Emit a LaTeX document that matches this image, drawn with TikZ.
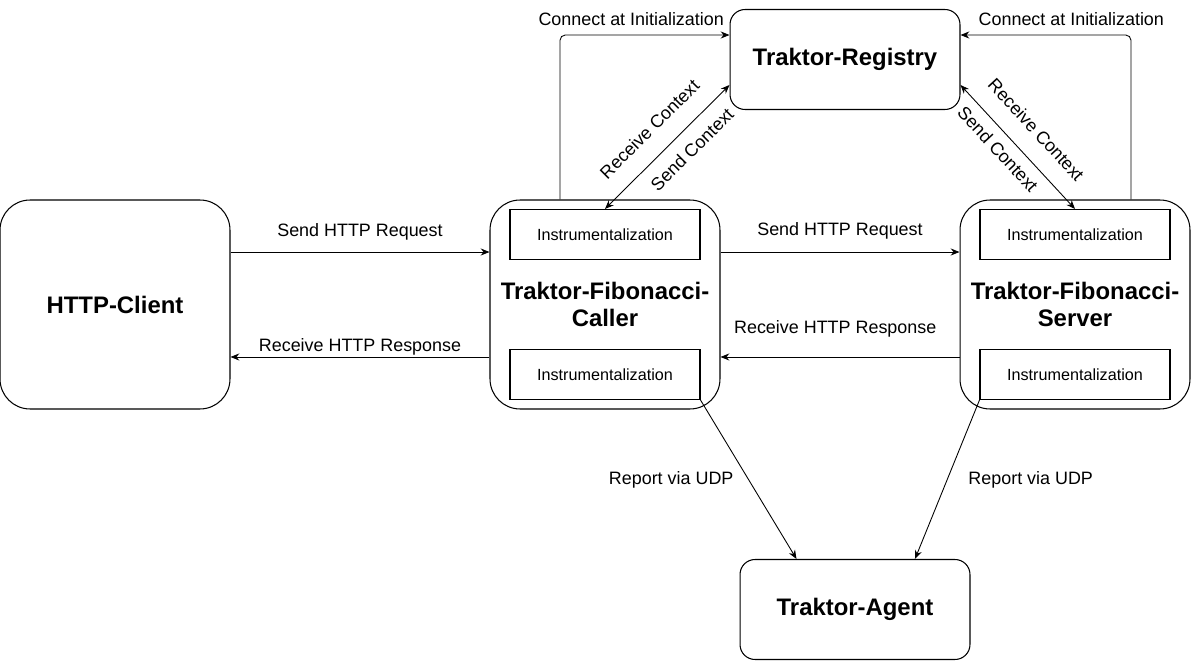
\documentclass[tikz,border=0pt]{standalone}
\usepackage{fontspec}
\setmainfont{Liberation Sans}
\usetikzlibrary{arrows.meta}
\newcommand{\titlefont}{\fontsize{13.6}{15.5}\selectfont\bfseries}
\newcommand{\lblfont}{\fontsize{10.2}{12}\selectfont}
\newcommand{\instfont}{\fontsize{9.2}{11}\selectfont}
\tikzset{
	box/.style = {draw, line width=0.6pt, rounded corners=0.6cm, minimum width=4.6cm, minimum height=4.18cm, align=center, font=\titlefont},
	flatbox/.style = {box, rounded corners=0.3cm, minimum height=2cm},
	inst/.style = {draw, line width=0.6pt, minimum width=3.8cm, minimum height=1cm, font=\instfont},
	arr/.style = {-{Stealth[length=5pt,width=4pt]}, line width=0.5pt},
	darr/.style = {{Stealth[length=5pt,width=4pt]}-{Stealth[length=5pt,width=4pt]}, line width=0.5pt},
	lbl/.style = {font=\lblfont}
}
\begin{document}
\begin{tikzpicture}[x=0.02cm, y=-0.02cm]
		\useasboundingbox (0,0) rectangle (1191,669);
		% services
		\node[box] (client) at (115,304.5) {HTTP-Client};
		\node[box] (caller) at (605,304.5) {Traktor-Fibonacci-\\Caller};
		\node[box] (server) at (1075,304.5) {Traktor-Fibonacci-\\Server};
		\node[flatbox] (registry) at (845,59.5) {Traktor-Registry};
		\node[flatbox] (agent) at (855,609.5) {Traktor-Agent};
		\node[inst] (callerTop) at (605,234.5) {Instrumentalization};
		\node[inst] (callerBot) at (605,374.5) {Instrumentalization};
		\node[inst] (serverTop) at (1075,234.5) {Instrumentalization};
		\node[inst] (serverBot) at (1075,374.5) {Instrumentalization};
		% http traffic
		\draw[arr] ([yshift=1.05cm]client.east) -- node[lbl, above=3pt] {Send HTTP Request} ([yshift=1.05cm]caller.west);
		\draw[arr] ([yshift=-1.05cm]caller.west) -- node[lbl, above=-2.5pt] {Receive HTTP Response} ([yshift=-1.05cm]client.east);
		\draw[arr] ([yshift=1.05cm]caller.east) -- node[lbl, above=3.5pt] {Send HTTP Request} ([yshift=1.05cm]server.west);
		\draw[arr] ([yshift=-1.05cm]server.west) -- node[lbl, above=7.4pt, pos=0.52] {Receive HTTP Response} ([yshift=-1.05cm]caller.east);
		% registry
		\draw[arr, rounded corners=3pt] ([xshift=-0.9cm]caller.north) |- node[lbl, above=1.5pt, pos=0.71] {Connect at Initialization} ([yshift=0.49cm]registry.west);
		\draw[arr, rounded corners=3pt] ([xshift=1.12cm]server.north) |- node[lbl, above=1.5pt, pos=0.675] {Connect at Initialization} ([yshift=0.49cm]registry.east);
		\draw[darr] (callerTop.north) -- node[lbl, sloped, above=7pt] {Receive Context} node[lbl, sloped, below=3.6pt, pos=0.59] {Send Context} ([yshift=-0.51cm]registry.west);
		\draw[darr] ([yshift=-0.51cm]registry.east) -- node[lbl, sloped, above=7pt] {Receive Context} node[lbl, sloped, below=1.8pt, pos=0.43] {Send Context} (serverTop.north);
		% agent
		\draw[arr] (callerBot.south east) -- node[lbl, left=5pt] {Report via UDP} ([xshift=-1.17cm]agent.north);
		\draw[arr] (serverBot.south west) -- node[lbl, right=8.5pt] {Report via UDP} ([xshift=1.2cm]agent.north);
\end{tikzpicture}
\end{document}
